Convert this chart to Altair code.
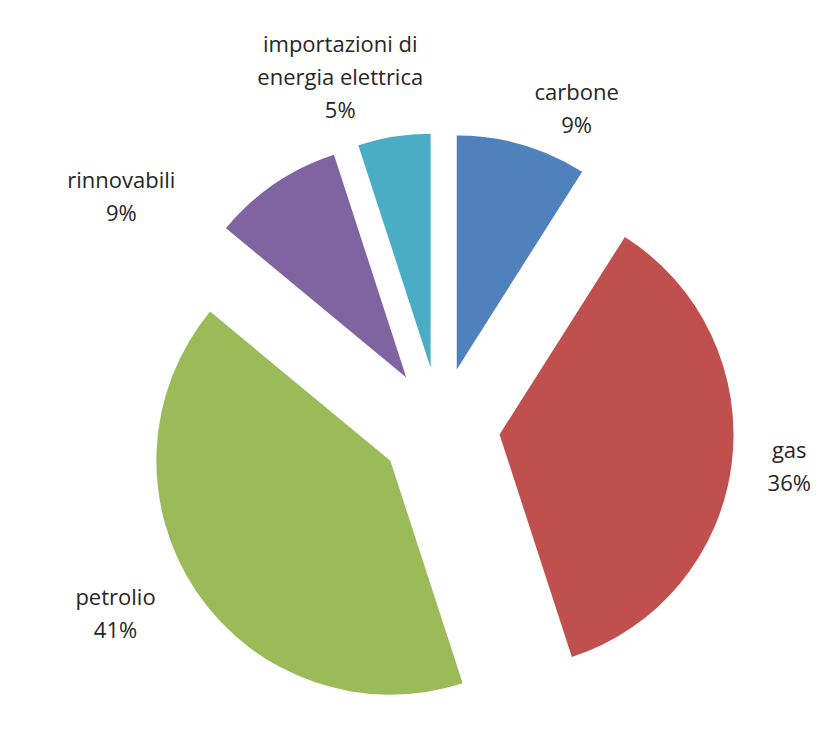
import altair as alt
import pandas as pd

# ---- data ----
categories = ["carbone", "gas", "petrolio", "rinnovabili", "importazioni di energia elettrica"]
values = [9, 36, 41, 9, 5]
label_lines = ["carbone|9%", "gas|36%", "petrolio|41%", "rinnovabili|9%",
               "importazioni di|energia elettrica|5%"]
colors = ["#4F81BD", "#C0504D", "#9BBB59", "#8064A2", "#4BACC6"]

# ---- layout (styling only) ----
CX, CY = 432, 419        # pie centre in chart pixels
R = 234                  # slice radius
EXPLODE = 60             # radial explosion of every slice
LABEL_R = 350            # label anchor distance
LINE_H = 33              # label line height
label_nudge_x = {"carbone": 39, "gas": 2, "petrolio": -35, "rinnovabili": -122,
                 "importazioni di energia elettrica": -45}
label_nudge_y = {"carbone": 19, "gas": -3, "petrolio": -9, "rinnovabili": 60,
                 "importazioni di energia elettrica": -3}

df = pd.DataFrame({
    "cat": categories,
    "value": values,
    "order": list(range(len(categories))),
    "lines": label_lines,
    "ndx": [label_nudge_x[c] for c in categories],
    "ndy": [label_nudge_y[c] for c in categories],
})

base = (
    alt.Chart(df)
    .transform_window(cum="sum(value)", sort=[alt.SortField("order")], frame=[None, 0])
    .transform_joinaggregate(total="sum(value)")
    .transform_calculate(t0="2*PI*(datum.cum - datum.value)/datum.total")
    .transform_calculate(t1="2*PI*datum.cum/datum.total")
    .transform_calculate(mid="(datum.t0 + datum.t1)/2")
    .transform_calculate(px=f"{CX} + {EXPLODE}*sin(datum.mid)")
    .transform_calculate(py=f"{CY} - {EXPLODE}*cos(datum.mid)")
    .transform_calculate(txt="split(datum.lines, '|')")
    .transform_calculate(lx=f"{CX} + {LABEL_R}*sin(datum.mid) + datum.ndx")
    .transform_calculate(
        ly=f"{CY} - {LABEL_R}*cos(datum.mid) + datum.ndy - (length(datum.txt) - 1)*{LINE_H}/2"
    )
)

arcs = base.mark_arc(radius=R).encode(
    x=alt.X("px:Q", scale=None),
    y=alt.Y("py:Q", scale=None),
    theta=alt.Theta("t0:Q", scale=None, stack=False),
    theta2="t1:Q",
    color=alt.Color("cat:N", scale=alt.Scale(domain=categories, range=colors), legend=None),
)

labels = base.mark_text(
    font="Open Sans", fontSize=22, lineHeight=LINE_H, align="center", baseline="middle",
    color="#262626",
).encode(
    x=alt.X("lx:Q", scale=None),
    y=alt.Y("ly:Q", scale=None),
    text=alt.Text("txt:N"),
)

chart = (
    alt.layer(arcs, labels)
    .properties(width=823, height=712, padding=0, autosize="none", background="white")
    .configure_view(stroke=None)
)

chart.save("out.html", embed_options={"renderer": "svg", "actions": False})
